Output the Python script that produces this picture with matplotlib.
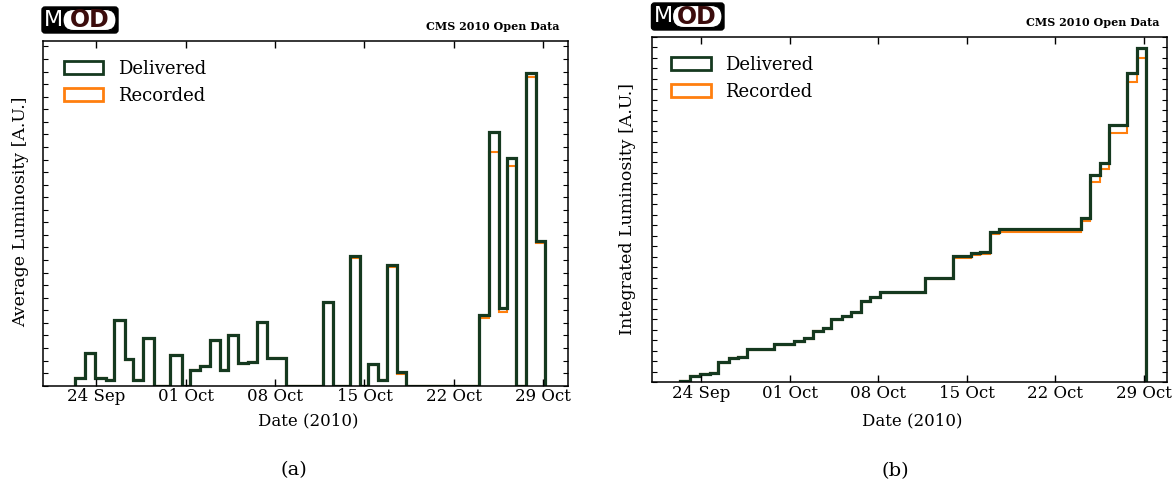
import matplotlib
matplotlib.use('Agg')
import matplotlib.pyplot as plt
import matplotlib.dates as mdates
from matplotlib.patches import Patch, FancyBboxPatch
from matplotlib.ticker import MultipleLocator, FixedLocator
from datetime import datetime
import numpy as np

# Bin edges in days after 24 Sep 2010 00:00
bin_edges_days = [-1.65, -0.87, -0.08, 0.75, 1.35, 2.20, 2.90, 3.66, 4.50, 5.78,
                  6.68, 7.34, 8.10, 8.88, 9.65, 10.30, 11.10, 11.88, 12.60, 13.36,
                  14.10, 14.85, 17.72, 18.52, 19.90, 20.66, 21.31, 22.06, 22.79, 23.57,
                  24.29, 29.99, 30.75, 31.53, 32.19, 32.89, 33.64, 34.42, 35.14]

# Average luminosity per bin [A.U.]
delivered = [22, 97, 24, 17, 197, 79, 17, 142, 0, 92,
             0, 48, 59, 137, 47, 153, 67, 72, 191, 83,
             83, 0, 252, 0, 390, 0, 64, 17, 362, 42,
             0, 212, 760, 232, 684, 0, 937, 435]
recorded = [22, 96, 24, 17, 195, 78, 17, 140, 0, 91,
            0, 47, 58, 135, 46, 151, 66, 71, 188, 82,
            82, 0, 249, 0, 382, 0, 62, 16, 356, 36,
            0, 202, 702, 222, 659, 0, 925, 427]

tick_dates = ['2010-09-24', '2010-10-01', '2010-10-08',
              '2010-10-15', '2010-10-22', '2010-10-29']

DARK = '#15391f'
ORANGE = '#ff7f0e'
W, H = 1174, 487

plt.rcParams['font.family'] = 'DejaVu Serif'

base = mdates.date2num(datetime(2010, 9, 24))
edges = base + np.array(bin_edges_days)
delivered = np.array(delivered)
recorded = np.array(recorded)


def px_box(x0, y0, x1, y1):
    return [x0 / W, 1 - y1 / H, (x1 - x0) / W, (y1 - y0) / H]


def style_axes(ax, xlim_days, ymax, ystep):
    ax.set_xlim(base + xlim_days[0], base + xlim_days[1])
    ax.set_ylim(0, ymax)
    ax.xaxis.set_major_locator(FixedLocator(mdates.datestr2num(tick_dates)))
    ax.xaxis.set_major_formatter(mdates.DateFormatter('%d %b'))
    ax.yaxis.set_major_locator(MultipleLocator(ystep))
    ax.tick_params(axis='x', direction='in', top=True, length=5, width=1,
                   pad=2, labelsize=12)
    ax.tick_params(axis='y', direction='in', right=True, length=3.5, width=0.8,
                   labelleft=False)
    for s in ax.spines.values():
        s.set_linewidth(1.1)


def add_legend(ax, x_anchor, y_anchor):
    handles = [Patch(facecolor='none', edgecolor=DARK, lw=2, label='Delivered'),
               Patch(facecolor='none', edgecolor=ORANGE, lw=2, label='Recorded')]
    ax.legend(handles=handles, loc='upper left', bbox_to_anchor=(x_anchor, y_anchor),
              frameon=False, borderaxespad=0, borderpad=0, handlelength=2.2,
              handleheight=0.72, handletextpad=0.8, labelspacing=0.5, fontsize=13)


def draw_logo(fig, x0, y0, x1, y1):
    lax = fig.add_axes(px_box(x0, y0, x1, y1))
    w, h = x1 - x0, y1 - y0
    lax.set_xlim(0, w)
    lax.set_ylim(0, h)
    lax.axis('off')
    lax.add_patch(FancyBboxPatch((0, 0), w, h, boxstyle='round,pad=0,rounding_size=3',
                                 fc='black', ec='black', clip_on=False))
    pill_w, pill_h = w - 23, h - 5
    lax.add_patch(FancyBboxPatch((21, 2.5), pill_w, pill_h,
                                 boxstyle=f'round,pad=0,rounding_size={pill_h / 2}',
                                 fc='white', ec='black', lw=0.8, clip_on=False))
    lax.text(11.5, h / 2, 'M', color='white', ha='center', va='center',
             fontsize=16, family='DejaVu Sans')
    lax.text(21 + pill_w / 2, h / 2, 'OD', color='#3b0c0c', ha='center', va='center',
             fontsize=17, weight='bold', family='DejaVu Sans')


fig = plt.figure(figsize=(W / 100, H / 100), dpi=100)

# (a) average luminosity per bin
ax1 = fig.add_axes(px_box(42.5, 40.7, 568, 385.7))
ax1.stairs(recorded, edges, baseline=0, color=ORANGE, lw=1.5)
ax1.stairs(delivered, edges, baseline=0, color=DARK, lw=2.3)
style_axes(ax1, (-4.23, 36.95), 1035, 37.7)
add_legend(ax1, 0.040, 0.945)

# (b) integrated luminosity
ax2 = fig.add_axes(px_box(651.5, 36.7, 1166.5, 382.3))
ax2.stairs(np.cumsum(recorded), edges, baseline=0, color=ORANGE, lw=1.5)
ax2.stairs(np.cumsum(delivered), edges, baseline=0, color=DARK, lw=2.3)
style_axes(ax2, (-3.91, 36.77), 6224, 188.5)
add_legend(ax2, 0.038, 0.945)

# labels
fig.text(20.5 / W, 1 - 212 / H, 'Average Luminosity [A.U.]', rotation=90,
         ha='center', va='center', fontsize=12.5)
fig.text(627.5 / W, 1 - 209 / H, 'Integrated Luminosity [A.U.]', rotation=90,
         ha='center', va='center', fontsize=12.5)
fig.text(308 / W, 1 - 421 / H, 'Date (2010)', ha='center', va='center', fontsize=12)
fig.text(912 / W, 1 - 421 / H, 'Date (2010)', ha='center', va='center', fontsize=12)
fig.text(294 / W, 1 - 470 / H, '(a)', ha='center', va='center', fontsize=14)
fig.text(895 / W, 1 - 471 / H, '(b)', ha='center', va='center', fontsize=14)
fig.text(560 / W, 1 - 26 / H, 'CMS 2010 Open Data', ha='right', va='center',
         fontsize=8, weight='bold')
fig.text(1160 / W, 1 - 22 / H, 'CMS 2010 Open Data', ha='right', va='center',
         fontsize=8, weight='bold')

draw_logo(fig, 42, 7, 118, 33)
draw_logo(fig, 651.5, 3, 724, 30)

fig.savefig('out.png', dpi=100)
